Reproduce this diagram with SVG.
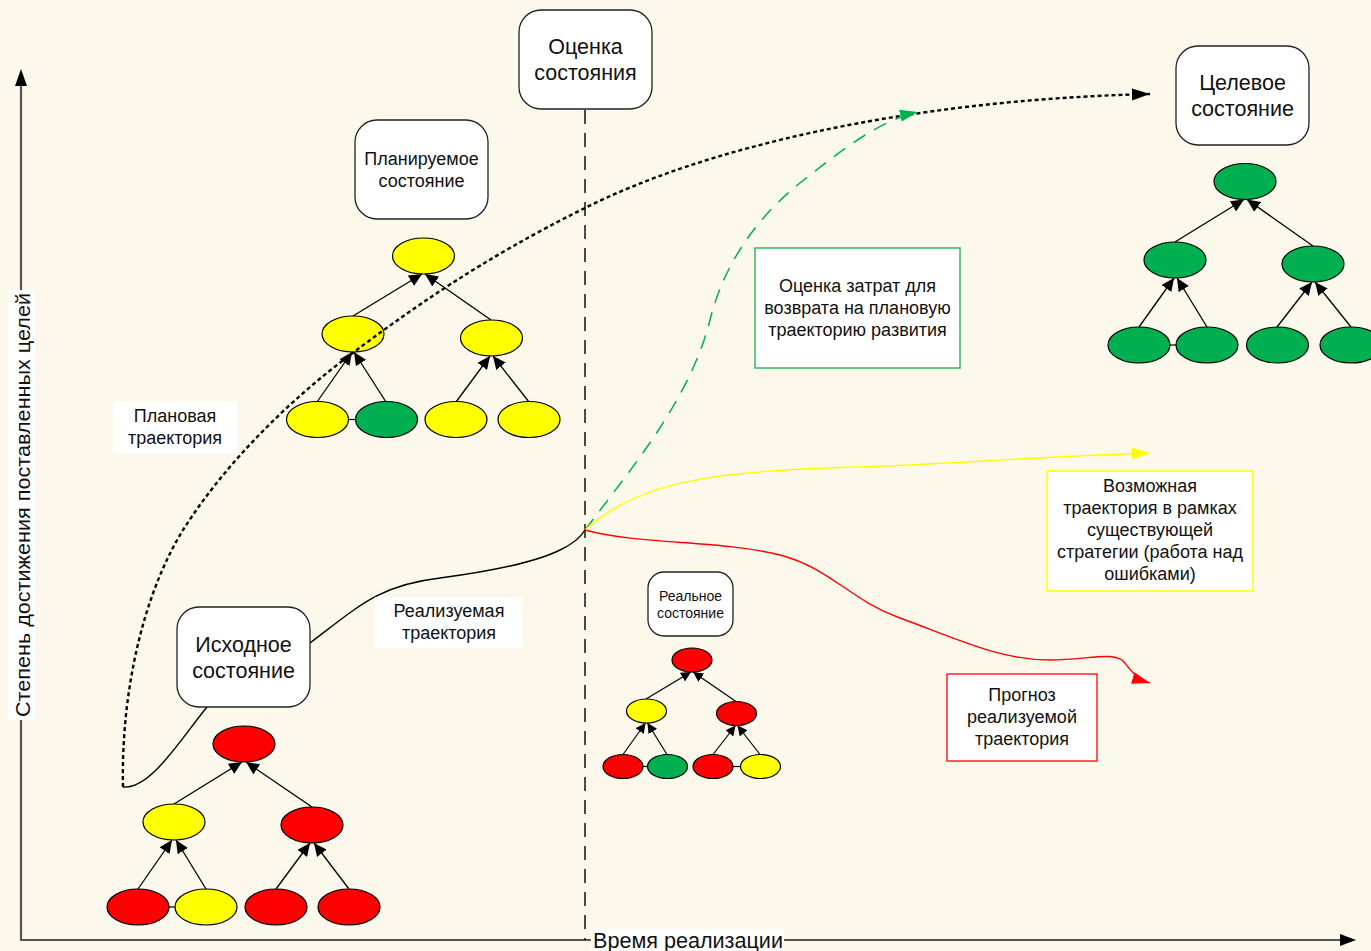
<svg xmlns="http://www.w3.org/2000/svg" width="1371" height="951" viewBox="0 0 1371 951">
<defs>
<style>
text{font-family:"Liberation Sans",Arial,sans-serif;fill:#111;text-anchor:middle}
.big{font-size:21.5px}
.mid{font-size:18px}
.sm{font-size:14px}
.state{fill:#fff;stroke:#222;stroke-width:1.3}
.lbl{fill:#fff;stroke:none}
.e{stroke:#000;stroke-width:1.2}
.r{fill:#FF0000}.y{fill:#FFFF00}.g{fill:#00B050}
.edge{stroke:#000;stroke-width:1.3;fill:none;marker-end:url(#ah)}
.edges{stroke:#000;stroke-width:1.2;fill:none;marker-end:url(#ahs)}
.link{stroke:#000;stroke-width:1.2}
.axis{stroke:#555;stroke-width:2.2;fill:none}
</style>
<marker id="ah" markerUnits="userSpaceOnUse" markerWidth="14" markerHeight="12" refX="13" refY="6" orient="auto"><path d="M0,0 L13,6 L0,12 z" fill="#000"/></marker>
<marker id="ahs" markerUnits="userSpaceOnUse" markerWidth="11" markerHeight="10" refX="10" refY="5" orient="auto"><path d="M0,0 L10,5 L0,10 z" fill="#000"/></marker>
<marker id="aBlack" markerUnits="userSpaceOnUse" markerWidth="20" markerHeight="14" refX="18" refY="7" orient="auto"><path d="M0,1 L18,7 L0,13 z" fill="#000"/></marker>
<marker id="aGreen" markerUnits="userSpaceOnUse" markerWidth="20" markerHeight="14" refX="18" refY="7" orient="auto"><path d="M0,1 L18,7 L0,13 z" fill="#00B050"/></marker>
<marker id="aYellow" markerUnits="userSpaceOnUse" markerWidth="20" markerHeight="14" refX="18" refY="7" orient="auto"><path d="M0,1 L18,7 L0,13 z" fill="#FFFF00"/></marker>
<marker id="aRed" markerUnits="userSpaceOnUse" markerWidth="20" markerHeight="14" refX="18" refY="7" orient="auto"><path d="M0,1 L18,7 L0,13 z" fill="#FF0000"/></marker>
</defs>
<rect x="0" y="0" width="1371" height="951" fill="#FCF8EC"/>

<g id="axes">
<line class="axis" x1="21" y1="84" x2="21" y2="940"/>
<polygon points="21,69 15,86 27,86" fill="#000"/>
<line class="axis" x1="20" y1="940" x2="1342" y2="940"/>
<polygon points="1356,940 1340,934 1340,946" fill="#000"/>
<rect class="lbl" x="8" y="290" width="27" height="430"/>
<text x="29.5" y="505" transform="rotate(-90 29.5 505)" style="font-size:21px" textLength="424" lengthAdjust="spacingAndGlyphs">Степень достижения поставленных целей</text>
<line x1="585" y1="110" x2="585" y2="940" stroke="#000" stroke-width="1.4" stroke-dasharray="14 9"/>
<rect class="lbl" x="591" y="929" width="193" height="22"/>
<text x="593" y="947.5" style="font-size:22px;text-anchor:start" textLength="190" lengthAdjust="spacingAndGlyphs">Время реализации</text>
</g>

<g id="tree-initial">
<line class="link" x1="169" y1="907" x2="176" y2="907"/>
<line class="edge" x1="174" y1="804" x2="242" y2="762"/>
<line class="edge" x1="312" y1="807" x2="246" y2="762"/>
<line class="edge" x1="138" y1="889" x2="172" y2="840"/>
<line class="edge" x1="206" y1="889" x2="176" y2="840"/>
<line class="edge" x1="276" y1="889" x2="310" y2="843"/>
<line class="edge" x1="349" y1="889" x2="314" y2="843"/>
<ellipse class="e r" cx="244" cy="744" rx="31" ry="18"/>
<ellipse class="e y" cx="174" cy="822" rx="31" ry="18"/>
<ellipse class="e r" cx="312" cy="825" rx="31" ry="18"/>
<ellipse class="e r" cx="138" cy="907" rx="31" ry="18"/>
<ellipse class="e y" cx="206" cy="907" rx="31" ry="18"/>
<ellipse class="e r" cx="276" cy="907" rx="31" ry="18"/>
<ellipse class="e r" cx="349" cy="907" rx="31" ry="18"/>
</g>

<g id="tree-planned">
<line class="link" x1="348" y1="419.5" x2="356" y2="419.5"/>
<line class="edge" x1="353" y1="316" x2="422" y2="274"/>
<line class="edge" x1="491" y1="320" x2="425" y2="274"/>
<line class="edge" x1="317" y1="402" x2="352" y2="352"/>
<line class="edge" x1="386" y1="402" x2="354" y2="352"/>
<line class="edge" x1="456" y1="402" x2="490" y2="356"/>
<line class="edge" x1="529" y1="402" x2="493" y2="356"/>
<ellipse class="e y" cx="423.5" cy="256" rx="31" ry="18"/>
<ellipse class="e y" cx="353" cy="334" rx="31" ry="18"/>
<ellipse class="e y" cx="491.5" cy="338" rx="31" ry="18"/>
<ellipse class="e y" cx="317.5" cy="419.5" rx="31" ry="18"/>
<ellipse class="e g" cx="386.5" cy="419.5" rx="31" ry="18"/>
<ellipse class="e y" cx="456" cy="419.5" rx="31" ry="18"/>
<ellipse class="e y" cx="529" cy="419.5" rx="31" ry="18"/>
</g>

<g id="tree-target">
<line class="link" x1="1170" y1="345" x2="1177" y2="345"/>
<line class="edge" x1="1175" y1="242" x2="1244" y2="199.5"/>
<line class="edge" x1="1313" y1="246" x2="1247" y2="199.5"/>
<line class="edge" x1="1139" y1="327" x2="1174" y2="278"/>
<line class="edge" x1="1207" y1="327" x2="1177" y2="278"/>
<line class="edge" x1="1277" y1="327" x2="1312" y2="282"/>
<line class="edge" x1="1351" y1="327" x2="1315" y2="282"/>
<ellipse class="e g" cx="1245" cy="181.5" rx="31" ry="18"/>
<ellipse class="e g" cx="1175" cy="260" rx="31" ry="18"/>
<ellipse class="e g" cx="1313" cy="264" rx="31" ry="18"/>
<ellipse class="e g" cx="1139" cy="345" rx="31" ry="18"/>
<ellipse class="e g" cx="1207" cy="345" rx="31" ry="18"/>
<ellipse class="e g" cx="1277.5" cy="345" rx="31" ry="18"/>
<ellipse class="e g" cx="1351" cy="345" rx="31" ry="18"/>
</g>

<g id="tree-real">
<line class="link" x1="642" y1="766.5" x2="648" y2="766.5"/>
<line class="link" x1="732" y1="766.5" x2="741" y2="766.5"/>
<line class="edges" x1="646" y1="699" x2="691" y2="672"/>
<line class="edges" x1="736" y1="701.5" x2="693" y2="672"/>
<line class="edges" x1="623" y1="754.5" x2="645.5" y2="723"/>
<line class="edges" x1="667" y1="754.5" x2="647.5" y2="723"/>
<line class="edges" x1="713" y1="754.5" x2="735.5" y2="725.5"/>
<line class="edges" x1="760" y1="754.5" x2="737.5" y2="725.5"/>
<ellipse class="e r" cx="692" cy="660" rx="20" ry="12"/>
<ellipse class="e y" cx="646.5" cy="711" rx="20" ry="12"/>
<ellipse class="e r" cx="736.5" cy="713.5" rx="20" ry="12"/>
<ellipse class="e r" cx="623" cy="766.5" rx="20" ry="12"/>
<ellipse class="e g" cx="667.5" cy="766.5" rx="20" ry="12"/>
<ellipse class="e r" cx="713" cy="766.5" rx="20" ry="12"/>
<ellipse class="e y" cx="760.5" cy="766.5" rx="20" ry="12"/>
</g>

<g id="connectors" fill="none">
<path id="planned" d="M123,787 C121,700 140,600 183,530 C226,462 290,400 350,355 C410,310 480,260 585,208 C700,150 900,100 1150,94" stroke="#000" stroke-width="2.4" stroke-dasharray="4 3" marker-end="url(#aBlack)"/>
<path id="realized" d="M123,787 C150,790 180,740 207,707 C230,680 280,660 310,643 C360,605 380,585 440,578 C500,570 540,560 560,550 C575,543 582,535 585,530" stroke="#000" stroke-width="1.4"/>
<path id="return" d="M585,530 C630,470 690,400 710,320 C725,260 760,215 800,183 C840,151 880,120 918,112" stroke="#00B050" stroke-width="1.5" stroke-dasharray="14 10" marker-end="url(#aGreen)"/>
<path id="possible" d="M585,530 C640,480 720,470 860,467 C950,464 1050,456 1150,453" stroke="#FFFF00" stroke-width="1.5" marker-end="url(#aYellow)"/>
<path id="forecast" d="M585,530 C640,545 720,540 780,555 C830,568 850,600 900,618 C960,640 1000,660 1050,660 C1085,660 1110,652 1122,660 C1128,665 1133,678 1150,683" stroke="#FF0000" stroke-width="1.4" marker-end="url(#aRed)"/>
</g>

<g id="node-ocenka">
<rect class="state" x="519" y="10" width="133" height="99" rx="22"/>
<text class="big" x="585.5" y="53.5">Оценка</text>
<text class="big" x="585.5" y="79.5">состояния</text>
</g>
<g id="node-planned">
<rect class="state" x="355" y="120" width="133" height="99" rx="22"/>
<text class="mid" x="421.5" y="165">Планируемое</text>
<text class="mid" x="421.5" y="187">состояние</text>
</g>
<g id="node-target">
<rect class="state" x="1176" y="46" width="133" height="99" rx="22"/>
<text class="big" x="1242.5" y="89.5">Целевое</text>
<text class="big" x="1242.5" y="115.5">состояние</text>
</g>
<g id="node-initial">
<rect class="state" x="177" y="607" width="133" height="100" rx="22"/>
<text class="big" x="243.5" y="651.5">Исходное</text>
<text class="big" x="243.5" y="677.5">состояние</text>
</g>
<g id="node-real">
<rect class="state" x="648" y="572" width="85" height="64" rx="16"/>
<text class="sm" x="690.5" y="601">Реальное</text>
<text class="sm" x="690.5" y="618">состояние</text>
</g>
<g id="label-cost">
<rect x="755" y="248" width="205" height="120" fill="#fff" stroke="#33B864" stroke-width="1.5"/>
<text class="mid" x="857.5" y="292">Оценка затрат для</text>
<text class="mid" x="857.5" y="314">возврата на плановую</text>
<text class="mid" x="857.5" y="336">траекторию развития</text>
</g>
<g id="label-possible">
<rect x="1047" y="471" width="206" height="120" fill="#fff" stroke="#FFFF00" stroke-width="1.5"/>
<text class="mid" x="1150" y="492">Возможная</text>
<text class="mid" x="1150" y="514">траектория в рамках</text>
<text class="mid" x="1150" y="536">существующей</text>
<text class="mid" x="1150" y="558">стратегии (работа над</text>
<text class="mid" x="1150" y="580">ошибками)</text>
</g>
<g id="label-forecast">
<rect x="947" y="674" width="150" height="87" fill="#fff" stroke="#FF0000" stroke-width="1.3"/>
<text class="mid" x="1022" y="701">Прогноз</text>
<text class="mid" x="1022" y="723">реализуемой</text>
<text class="mid" x="1022" y="745">траектория</text>
</g>
<g id="label-plan">
<rect class="lbl" x="113" y="402" width="124" height="51"/>
<text class="mid" x="175" y="422">Плановая</text>
<text class="mid" x="175" y="444">траектория</text>
</g>
<g id="label-realized">
<rect class="lbl" x="375" y="597" width="148" height="51"/>
<text class="mid" x="449" y="617">Реализуемая</text>
<text class="mid" x="449" y="639">траектория</text>
</g>
</svg>
